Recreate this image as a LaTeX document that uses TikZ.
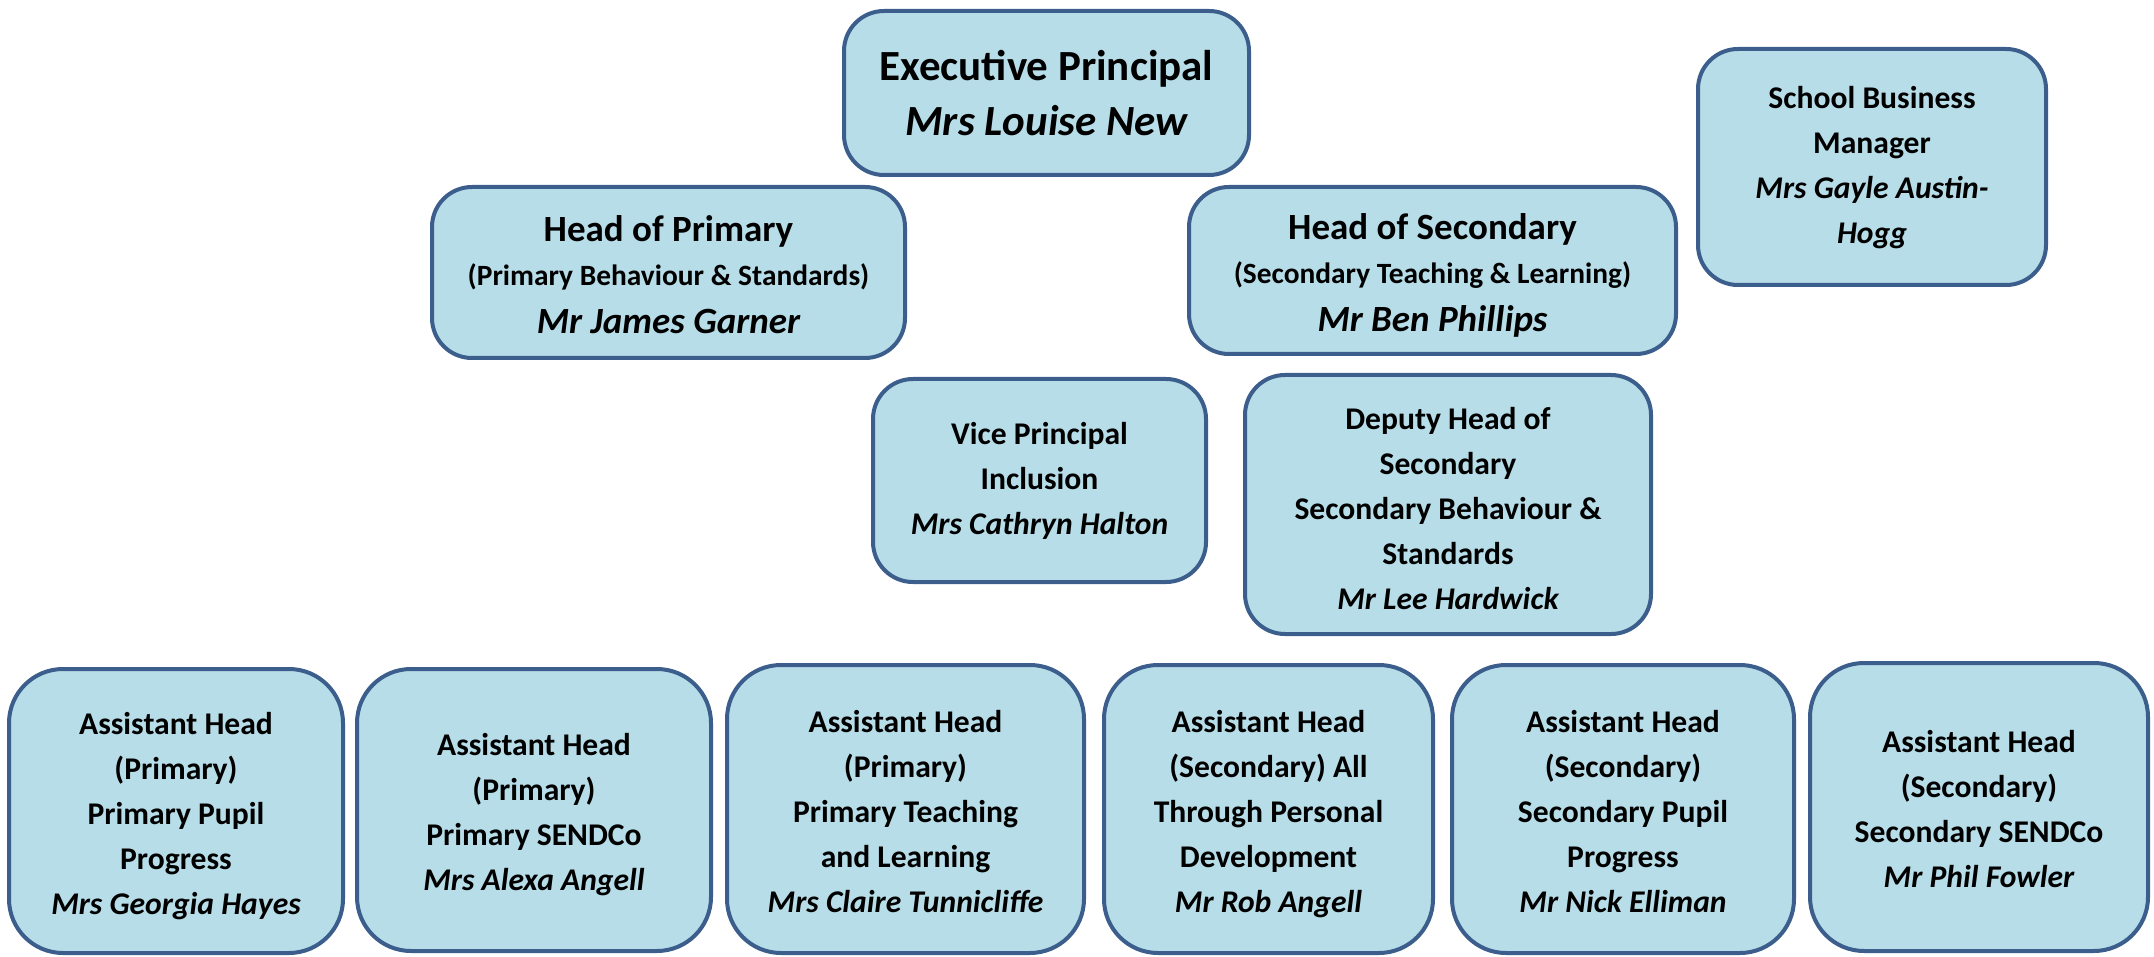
\documentclass[tikz,border=0pt]{standalone}
\usepackage{fontspec}
\setmainfont{Carlito}
\definecolor{boxfill}{HTML}{B7DDE8}
\definecolor{boxline}{HTML}{3B5E8C}
\begin{document}
\begin{tikzpicture}[x=0.5pt,y=-0.5pt,
  box/.style={draw=boxline, fill=boxfill, line width=2pt, rounded corners=20pt,
    align=center, inner sep=0pt, font=\bfseries\fontsize{15.8}{22.5}\selectfont},
  lowbox/.style={box, rounded corners=27pt},
  topfont/.style={font=\bfseries\fontsize{21.5}{27.5}\selectfont},
  headfont/.style={font=\bfseries\fontsize{18.5}{22}\selectfont}]
\useasboundingbox (0,0) rectangle (2154,957);
\newcommand\subl{\fontsize{14.7}{22}\selectfont}
\newcommand\nm{\itshape}
\newcommand\topl[1]{\rule{0pt}{\dimexpr0.7\baselineskip+#1\relax}}

\node[box, topfont, minimum width=202.5pt, minimum height=82pt] (exec) at (1046.5,93)
  {\topl{4pt}\strut Executive Principal\\ \strut\nm Mrs Louise New};
\node[box, headfont, minimum width=236.5pt, minimum height=85.5pt] (hop) at (668.5,272.5)
  {\topl{6pt}\strut Head of Primary\\ {\subl\strut (Primary Behaviour \& Standards)}\\[2pt] \strut\nm Mr James Garner};
\node[box, headfont, minimum width=243.5pt, minimum height=83.5pt] (hos) at (1432.5,270.5)
  {\topl{6pt}\strut Head of Secondary\\ {\subl\strut (Secondary Teaching \& Learning)}\\[2pt] \strut\nm Mr Ben Phillips};
\node[box, minimum width=174pt, minimum height=118pt] (sbm) at (1872,167)
  {\strut School Business\\ \strut Manager\\ \strut\nm Mrs Gayle Austin-\\ \strut\nm Hogg};
\node[box, minimum width=166.5pt, minimum height=101.5pt] (vice) at (1039.5,480.5)
  {\strut Vice Principal\\ \strut Inclusion\\ \strut\nm Mrs Cathryn Halton};
\node[box, minimum width=203pt, minimum height=129.5pt] (deputy) at (1448,504.5)
  {\topl{5.5pt}\strut Deputy Head of\\ \strut Secondary\\ \strut Secondary Behaviour \&\\ \strut Standards\\ \strut\nm Mr Lee Hardwick};

\node[lowbox, minimum width=167pt, minimum height=142pt] (ah1) at (176,811)
  {\topl{4pt}\strut Assistant Head\\ \strut (Primary)\\ \strut Primary Pupil\\ \strut Progress\\ \strut\nm Mrs Georgia Hayes};
\node[lowbox, minimum width=177pt, minimum height=141pt] (ah2) at (534,810)
  {\topl{4pt}\strut Assistant Head\\ \strut (Primary)\\ \strut Primary SENDCo\\ \strut\nm Mrs Alexa Angell};
\node[lowbox, minimum width=178.5pt, minimum height=144pt] (ah3) at (905.5,809)
  {\topl{4pt}\strut Assistant Head\\ \strut (Primary)\\ \strut Primary Teaching\\ \strut and Learning\\ \strut\nm Mrs Claire Tunnicliffe};
\node[lowbox, minimum width=164.5pt, minimum height=144pt] (ah4) at (1268.5,809)
  {\topl{4pt}\strut Assistant Head\\ \strut (Secondary) All\\ \strut Through Personal\\ \strut Development\\ \strut\nm Mr Rob Angell};
\node[lowbox, minimum width=171pt, minimum height=144pt] (ah5) at (1623,809)
  {\topl{4pt}\strut Assistant Head\\ \strut (Secondary)\\ \strut Secondary Pupil\\ \strut Progress\\ \strut\nm Mr Nick Elliman};
\node[lowbox, minimum width=169pt, minimum height=144pt] (ah6) at (1979,807)
  {\topl{4pt}\strut Assistant Head\\ \strut (Secondary)\\ \strut Secondary SENDCo\\ \strut\nm Mr Phil Fowler};
\end{tikzpicture}
\end{document}
